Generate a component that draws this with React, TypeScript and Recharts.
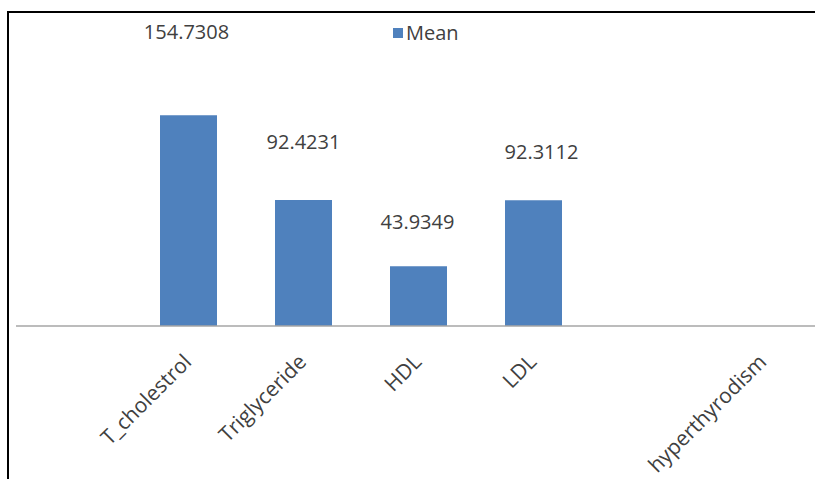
import React from "react";
import { BarChart, Bar, XAxis, YAxis, LabelList, Legend } from "recharts";

const categories = ["", "T_cholestrol", "Triglyceride", "HDL", "LDL", " ", "hyperthyrodism"];
const meanValues = [null, 154.7308, 92.4231, 43.9349, 92.3112, null, null];
const seriesName = "Mean";

// label placement (style only): lift above bar top, horizontal shift, keyed by category
const LABEL_LIFT: Record<string, number> = { T_cholestrol: 83, Triglyceride: 58, HDL: 44, LDL: 48 };
const LABEL_SHIFT: Record<string, number> = { T_cholestrol: -2, Triglyceride: 0, HDL: -1, LDL: 8 };

const data = categories.map((name, i) => ({ name, mean: meanValues[i] }));

const FONT = "'Open Sans', sans-serif";
const TEXT = "#404040";
const BLUE = "#4f81bd";

const Tick = (props: any) => {
  const { x, y, payload } = props;
  return (
    <g transform={`translate(${x - 1},${y + 24})`}>
      <text
        x={0}
        y={0}
        dy="0.35em"
        textAnchor="end"
        transform="rotate(-45)"
        fontFamily={FONT}
        fontSize={21}
        fill={TEXT}
      >
        {payload.value}
      </text>
    </g>
  );
};

const ValueLabel = (props: any) => {
  const { x, y, width, value } = props;
  const idx = categories.indexOf(value);
  const v = idx >= 0 ? meanValues[idx] : null;
  if (v == null) return null;
  const cx = x + width / 2 + (LABEL_SHIFT[value] || 0);
  const cy = y - (LABEL_LIFT[value] || 0);
  return (
    <text
      x={cx}
      y={cy}
      dy="0.35em"
      textAnchor="middle"
      fontFamily={FONT}
      fontSize={20}
      fill={TEXT}
    >
      {String(v)}
    </text>
  );
};

const LegendContent = () => (
  <div style={{ display: "flex", alignItems: "center", fontFamily: FONT, fontSize: 20, color: TEXT }}>
    <span style={{ display: "inline-block", width: 10, height: 10, background: BLUE, marginRight: 3 }} />
    <span>{seriesName}</span>
  </div>
);

export default function App() {
  return (
    <div
      style={{
        position: "absolute",
        left: 0,
        top: 0,
        width: 815,
        height: 479,
        overflow: "hidden",
        background: "#fff",
      }}
    >
      <BarChart
        width={815}
        height={479}
        data={data}
        margin={{ top: 108, right: -6, left: 16, bottom: 0 }}
        style={{ overflow: "hidden" }}
      >
        <XAxis
          dataKey="name"
          height={126}
          interval={0}
          tickLine={false}
          axisLine={{ stroke: "#a6a6a6", strokeWidth: 1.5 }}
          tick={<Tick />}
        />
        <YAxis hide domain={[0, 160]} />
        <Legend
          content={<LegendContent />}
          wrapperStyle={{ position: "absolute", top: 19, left: 393, width: "auto" }}
        />
        <Bar dataKey="mean" name={seriesName} fill={BLUE} barSize={57} isAnimationActive={false}>
          <LabelList dataKey="name" content={<ValueLabel />} />
        </Bar>
      </BarChart>
      <div style={{ position: "absolute", left: 7, top: 11, width: 808, height: 2, background: "#000" }} />
      <div style={{ position: "absolute", left: 7, top: 11, width: 2, height: 468, background: "#000" }} />
    </div>
  );
}
